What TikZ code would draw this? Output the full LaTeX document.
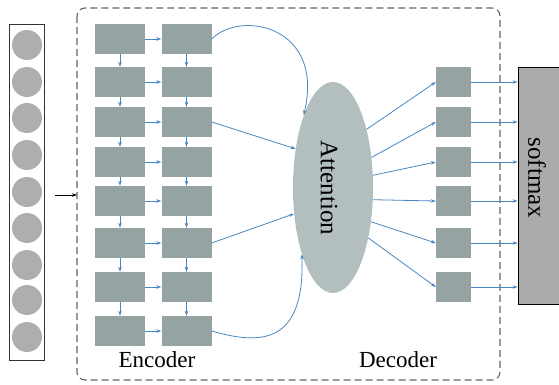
\documentclass[tikz,border=0pt]{standalone}
\usepackage{fontspec}
\setmainfont{Liberation Serif}
\usetikzlibrary{shapes.geometric,arrows.meta}
\definecolor{cellgrey}{HTML}{95A3A3}
\definecolor{attgrey}{HTML}{B3BEBE}
\definecolor{boxgrey}{HTML}{ABABAB}
\definecolor{dotgrey}{HTML}{AEAEAE}
\definecolor{linkblue}{HTML}{4A86C0}

\begin{document}
\begin{tikzpicture}[x=1pt,y=-1pt,
  cell/.style={fill=cellgrey,minimum width=50pt,minimum height=30pt,inner sep=0pt},
  deccell/.style={cell,minimum width=35pt},
  link/.style={linkblue,line width=0.8pt,-{Stealth[length=5pt,width=3.5pt]}},
  frame/.style={gray!80!black,line width=1.1pt,dash pattern=on 7pt off 4pt,rounded corners=8pt},
  lbl/.style={font=\fontsize{23}{26}\selectfont}]
\useasboundingbox (0,0) rectangle (559,384);
% input vector
\node[draw=gray!40!black,line width=1pt,minimum width=35pt,minimum height=336pt,inner sep=0pt] (vec) at (26.5,192) {};
\foreach \y in {45,82,118,155,192,228,265,300,337}
  \fill[dotgrey] (27,\y) circle (15pt);
% dashed model frame
\draw[frame] (77,8) rectangle (500,380);
\coordinate (src) at (55,195);
\coordinate (entry) at (77,195);
\draw[black,line width=0.8pt,-{Stealth[length=5pt,width=3.5pt]}] (src) -- (entry);
% encoder grid
\foreach \y [count=\i] in {39,82,122,162,201,243,287,331} {
  \node[cell] (a\i) at (120,\y) {};
  \node[cell] (b\i) at (186.5,\y) {};
  \draw[link] (a\i) -- (b\i);
}
\foreach \i [evaluate=\i as \j using int(\i-1)] in {2,...,8} {
  \draw[link] (a\j) -- (a\i);
  \draw[link] (b\j) -- (b\i);
}
\node[lbl] (enc) at (157,360) {Encoder};
% attention
\node[ellipse,fill=attgrey,minimum width=80pt,minimum height=211pt,inner sep=0pt] (att) at (333,187.5) {};
\node[font=\fontsize{25}{28}\selectfont] (attlbl) at (329,188) {\rotatebox{-90}{Attention}};
\draw[link] (b1.east) .. controls (240,10) and (325,25) .. (att.112);
\draw[link] (b3.east) -- (att.134);
\draw[link] (b6.east) -- (att.214);
\draw[link] (b8.east) .. controls (260,345) and (305,345) .. (att.245);
% softmax
\node[fill=boxgrey,draw=black,line width=0.8pt,minimum width=46pt,minimum height=237pt,inner sep=0pt] (sm) at (541,185.5) {};
\node[font=\fontsize{25}{28}\selectfont] (smlbl) at (537,178) {\rotatebox{-90}{softmax}};
% decoder
\foreach \y/\ang [count=\i] in {82/60,122/38,162/17,201/-17,243/-42,287/-55} {
  \node[deccell] (d\i) at (453.5,\y) {};
  \draw[link] (att.\ang) -- (d\i.west);
  \draw[link] (d\i.east) -- (d\i.east -| sm.west);
}
\node[lbl] (dec) at (398,360) {Decoder};
\end{tikzpicture}
\end{document}
